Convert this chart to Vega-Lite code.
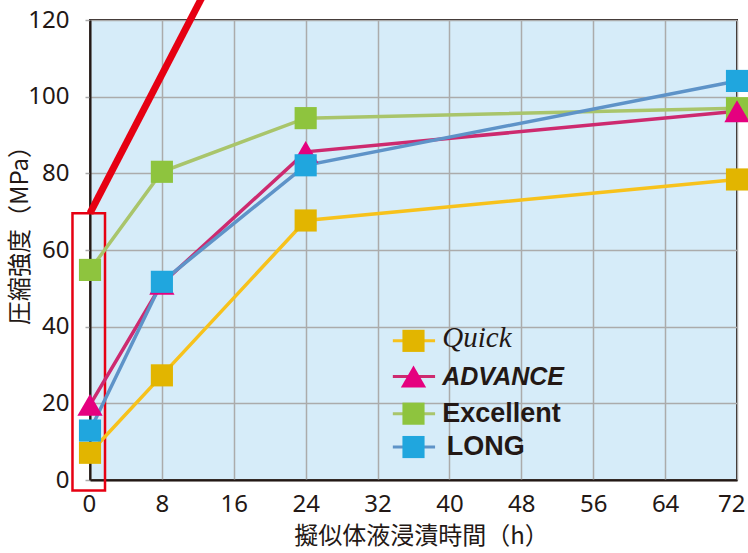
{
  "$schema": "https://vega.github.io/schema/vega-lite/v6.json",
  "width": 647,
  "height": 460,
  "autosize": {"type": "none"},
  "padding": {"left": 90, "top": 20, "right": 11, "bottom": 73},
  "background": "white",
  "config": {
    "view": {"fill": "#D6ECF9", "stroke": "#231815", "strokeWidth": 2},
    "axis": {
      "labelFont": "Noto Sans",
      "labelFontSize": 24,
      "labelColor": "#231815",
      "labelFlush": false,
      "domainColor": "#231815",
      "domainWidth": 2,
      "gridColor": "#ABABAB",
      "gridWidth": 1.5,
      "gridOpacity": 1,
      "titleFont": "Noto Sans CJK JP",
      "titleFontSize": 24,
      "titleFontWeight": "normal",
      "titleColor": "#231815"
    }
  },
  "datasets": {
    "series": [
      {"series": "Quick", "h": 0, "mpa": 7.1},
      {"series": "Quick", "h": 8, "mpa": 27.3},
      {"series": "Quick", "h": 24, "mpa": 67.7},
      {"series": "Quick", "h": 72, "mpa": 78.4},
      {"series": "Excellent", "h": 0, "mpa": 54.8},
      {"series": "Excellent", "h": 8, "mpa": 80.4},
      {"series": "Excellent", "h": 24, "mpa": 94.4},
      {"series": "Excellent", "h": 72, "mpa": 97.0},
      {"series": "ADVANCE", "h": 0, "mpa": 19.6},
      {"series": "ADVANCE", "h": 8, "mpa": 51.2},
      {"series": "ADVANCE", "h": 24, "mpa": 85.6},
      {"series": "ADVANCE", "h": 72, "mpa": 96.2},
      {"series": "LONG", "h": 0, "mpa": 12.9},
      {"series": "LONG", "h": 8, "mpa": 51.7},
      {"series": "LONG", "h": 24, "mpa": 82.1},
      {"series": "LONG", "h": 72, "mpa": 104.1}
    ],
    "legend": [
      {"series": "Quick", "x1": 33.7, "x2": 38.4, "xc": 36.0, "y": 36.3},
      {"series": "ADVANCE", "x1": 33.7, "x2": 38.4, "xc": 36.0, "y": 27.0},
      {"series": "Excellent", "x1": 33.7, "x2": 38.4, "xc": 36.0, "y": 17.3},
      {"series": "LONG", "x1": 33.7, "x2": 38.4, "xc": 36.0, "y": 8.6}
    ]
  },
  "layer": [
    {
      "data": {"values": [{"x1": -1.95, "x2": 1.67, "y1": -2.74, "y2": 69.6}]},
      "mark": {"type": "rect", "fill": null, "fillOpacity": 0, "stroke": "#E60012", "strokeWidth": 2.5, "clip": false},
      "encoding": {
        "x": {"field": "x1", "type": "quantitative", "scale": {"domain": [0, 72], "nice": false, "zero": false},
          "axis": {"values": [0, 8, 16, 24, 32, 40, 48, 56, 64, 72], "ticks": false, "labelPadding": 12, "labelFlush": true, "labelFlushOffset": 8, "title": "擬似体液浸漬時間（h）", "titleX": 331, "titleY": 56, "titleBaseline": "middle", "titleAnchor": "middle", "titleAlign": "center"}},
        "x2": {"field": "x2"},
        "y": {"field": "y1", "type": "quantitative", "scale": {"domain": [0, 120], "nice": false, "zero": false},
          "axis": {"values": [0, 20, 40, 60, 80, 100, 120], "tickColor": "#ABABAB", "tickSize": 5, "tickWidth": 1.5, "labelPadding": 16, "title": "圧縮強度（MPa）", "titleX": -70, "titleY": 209, "titleAngle": -90, "titleBaseline": "middle", "titleAlign": "center", "titleAnchor": "middle"}},
        "y2": {"field": "y2"}
      }
    },
    {
      "data": {"name": "series"},
      "mark": {"type": "line", "strokeWidth": 3.5, "clip": false},
      "encoding": {
        "x": {"field": "h", "type": "quantitative"},
        "y": {"field": "mpa", "type": "quantitative"},
        "detail": {"field": "series"},
        "color": {"field": "series", "type": "nominal", "legend": null,
          "scale": {"domain": ["Quick", "ADVANCE", "Excellent", "LONG"], "range": ["#F7C21C", "#CD2A6F", "#A9C56B", "#5E93C8"]}}
      }
    },
    {
      "data": {"values": [{"h": 0, "mpa": 69.6}, {"h": 13.5, "mpa": 130.6}]},
      "mark": {"type": "line", "stroke": "#E60012", "strokeWidth": 7, "clip": false, "strokeCap": "butt"},
      "encoding": {
        "x": {"field": "h", "type": "quantitative"},
        "y": {"field": "mpa", "type": "quantitative"}
      }
    },
    {
      "data": {"name": "series"},
      "mark": {"type": "point", "filled": true, "opacity": 1, "strokeWidth": 0, "clip": false},
      "encoding": {
        "x": {"field": "h", "type": "quantitative"},
        "y": {"field": "mpa", "type": "quantitative"},
        "shape": {"field": "series", "type": "nominal", "legend": null,
          "scale": {"domain": ["Quick", "ADVANCE", "Excellent", "LONG"], "range": ["square", "triangle-up", "square", "square"]}},
        "size": {"field": "series", "type": "nominal", "legend": null,
          "scale": {"type": "ordinal", "domain": ["Quick", "ADVANCE", "Excellent", "LONG"], "range": [490, 640, 490, 490]}},
        "fill": {"field": "series", "type": "nominal", "legend": null,
          "scale": {"domain": ["Quick", "ADVANCE", "Excellent", "LONG"], "range": ["#E2B500", "#E5007F", "#8EC43E", "#20A6DE"]}}
      }
    },
    {
      "data": {"name": "legend"},
      "mark": {"type": "rule", "strokeWidth": 3},
      "encoding": {
        "x": {"field": "x1", "type": "quantitative"},
        "x2": {"field": "x2"},
        "y": {"field": "y", "type": "quantitative"},
        "color": {"field": "series", "type": "nominal", "legend": null,
          "scale": {"domain": ["Quick", "ADVANCE", "Excellent", "LONG"], "range": ["#F7C21C", "#CD2A6F", "#A9C56B", "#5E93C8"]}}
      }
    },
    {
      "data": {"name": "legend"},
      "mark": {"type": "point", "filled": true, "opacity": 1, "strokeWidth": 0},
      "encoding": {
        "x": {"field": "xc", "type": "quantitative"},
        "y": {"field": "y", "type": "quantitative"},
        "shape": {"field": "series", "type": "nominal", "legend": null,
          "scale": {"domain": ["Quick", "ADVANCE", "Excellent", "LONG"], "range": ["square", "triangle-up", "square", "square"]}},
        "size": {"field": "series", "type": "nominal", "legend": null,
          "scale": {"type": "ordinal", "domain": ["Quick", "ADVANCE", "Excellent", "LONG"], "range": [490, 640, 490, 490]}},
        "fill": {"field": "series", "type": "nominal", "legend": null,
          "scale": {"domain": ["Quick", "ADVANCE", "Excellent", "LONG"], "range": ["#E2B500", "#E5007F", "#8EC43E", "#20A6DE"]}}
      }
    },
    {
      "data": {"values": [{"label": "Quick", "x": 39.2, "y": 36.3}]},
      "mark": {"type": "text", "font": "Liberation Serif", "fontStyle": "italic", "fontSize": 29, "align": "left", "baseline": "middle", "color": "#231815", "dy": -3},
      "encoding": {"x": {"field": "x", "type": "quantitative"}, "y": {"field": "y", "type": "quantitative"}, "text": {"field": "label"}}
    },
    {
      "data": {"values": [{"label": "ADVANCE", "x": 39.2, "y": 27.0}]},
      "mark": {"type": "text", "font": "Liberation Sans", "fontStyle": "italic", "fontWeight": "bold", "fontSize": 25, "align": "left", "baseline": "middle", "color": "#231815"},
      "encoding": {"x": {"field": "x", "type": "quantitative"}, "y": {"field": "y", "type": "quantitative"}, "text": {"field": "label"}}
    },
    {
      "data": {"values": [{"label": "Excellent", "x": 39.2, "y": 17.3}]},
      "mark": {"type": "text", "font": "Liberation Sans", "fontWeight": "bold", "fontSize": 27, "align": "left", "baseline": "middle", "color": "#231815"},
      "encoding": {"x": {"field": "x", "type": "quantitative"}, "y": {"field": "y", "type": "quantitative"}, "text": {"field": "label"}}
    },
    {
      "data": {"values": [{"label": "LONG", "x": 39.7, "y": 8.6}]},
      "mark": {"type": "text", "font": "Liberation Sans", "fontWeight": "bold", "fontSize": 27, "align": "left", "baseline": "middle", "color": "#231815"},
      "encoding": {"x": {"field": "x", "type": "quantitative"}, "y": {"field": "y", "type": "quantitative"}, "text": {"field": "label"}}
    }
  ]
}
